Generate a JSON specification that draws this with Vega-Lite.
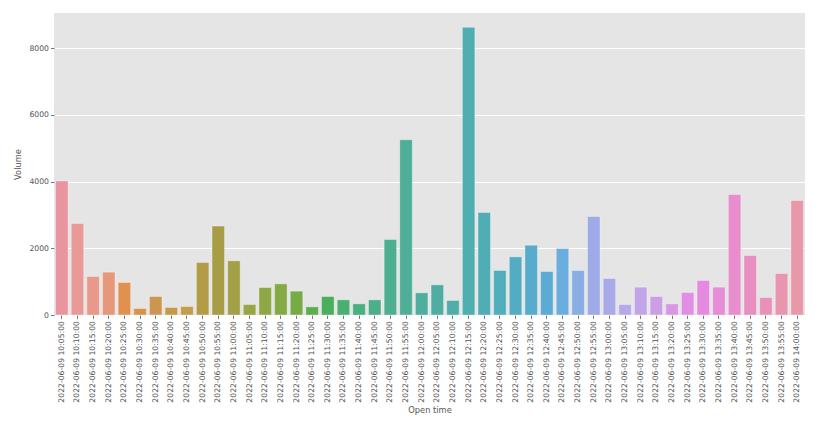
{
  "$schema": "https://vega.github.io/schema/vega-lite/v6.json",
  "width": 751,
  "height": 302,
  "autosize": {"type": "none"},
  "padding": {"left": 54, "top": 13, "right": 14, "bottom": 114},
  "background": "white",
  "config": {
    "font": "DejaVu Sans",
    "view": {"fill": "#e5e5e5", "stroke": null},
    "axis": {
      "labelColor": "#555555",
      "titleColor": "#555555",
      "tickColor": "#555555",
      "labelFont": "DejaVu Sans",
      "titleFont": "DejaVu Sans",
      "labelFontSize": 7.7,
      "titleFontSize": 8.3,
      "titleFontWeight": "normal",
      "domain": false,
      "tickSize": 3.5,
      "tickWidth": 0.8,
      "gridColor": "white",
      "gridWidth": 1
    }
  },
  "data": {
    "values": [
      {"Open time": "2022-06-09 10:05:00", "Volume": 4020},
      {"Open time": "2022-06-09 10:10:00", "Volume": 2745},
      {"Open time": "2022-06-09 10:15:00", "Volume": 1155},
      {"Open time": "2022-06-09 10:20:00", "Volume": 1285},
      {"Open time": "2022-06-09 10:25:00", "Volume": 975},
      {"Open time": "2022-06-09 10:30:00", "Volume": 195},
      {"Open time": "2022-06-09 10:35:00", "Volume": 555},
      {"Open time": "2022-06-09 10:40:00", "Volume": 225},
      {"Open time": "2022-06-09 10:45:00", "Volume": 255},
      {"Open time": "2022-06-09 10:50:00", "Volume": 1575},
      {"Open time": "2022-06-09 10:55:00", "Volume": 2665},
      {"Open time": "2022-06-09 11:00:00", "Volume": 1625},
      {"Open time": "2022-06-09 11:05:00", "Volume": 315},
      {"Open time": "2022-06-09 11:10:00", "Volume": 825},
      {"Open time": "2022-06-09 11:15:00", "Volume": 935},
      {"Open time": "2022-06-09 11:20:00", "Volume": 715},
      {"Open time": "2022-06-09 11:25:00", "Volume": 245},
      {"Open time": "2022-06-09 11:30:00", "Volume": 555},
      {"Open time": "2022-06-09 11:35:00", "Volume": 455},
      {"Open time": "2022-06-09 11:40:00", "Volume": 335},
      {"Open time": "2022-06-09 11:45:00", "Volume": 455},
      {"Open time": "2022-06-09 11:50:00", "Volume": 2265},
      {"Open time": "2022-06-09 11:55:00", "Volume": 5255},
      {"Open time": "2022-06-09 12:00:00", "Volume": 665},
      {"Open time": "2022-06-09 12:05:00", "Volume": 905},
      {"Open time": "2022-06-09 12:10:00", "Volume": 435},
      {"Open time": "2022-06-09 12:15:00", "Volume": 8625},
      {"Open time": "2022-06-09 12:20:00", "Volume": 3075},
      {"Open time": "2022-06-09 12:25:00", "Volume": 1335},
      {"Open time": "2022-06-09 12:30:00", "Volume": 1745},
      {"Open time": "2022-06-09 12:35:00", "Volume": 2095},
      {"Open time": "2022-06-09 12:40:00", "Volume": 1305},
      {"Open time": "2022-06-09 12:45:00", "Volume": 1995},
      {"Open time": "2022-06-09 12:50:00", "Volume": 1335},
      {"Open time": "2022-06-09 12:55:00", "Volume": 2955},
      {"Open time": "2022-06-09 13:00:00", "Volume": 1095},
      {"Open time": "2022-06-09 13:05:00", "Volume": 315},
      {"Open time": "2022-06-09 13:10:00", "Volume": 835},
      {"Open time": "2022-06-09 13:15:00", "Volume": 555},
      {"Open time": "2022-06-09 13:20:00", "Volume": 335},
      {"Open time": "2022-06-09 13:25:00", "Volume": 675},
      {"Open time": "2022-06-09 13:30:00", "Volume": 1035},
      {"Open time": "2022-06-09 13:35:00", "Volume": 835},
      {"Open time": "2022-06-09 13:40:00", "Volume": 3615},
      {"Open time": "2022-06-09 13:45:00", "Volume": 1785},
      {"Open time": "2022-06-09 13:50:00", "Volume": 525},
      {"Open time": "2022-06-09 13:55:00", "Volume": 1245},
      {"Open time": "2022-06-09 14:00:00", "Volume": 3435}
    ]
  },
  "mark": {"type": "bar", "stroke": "white", "strokeOpacity": 0.35, "strokeWidth": 1},
  "encoding": {
    "x": {
      "field": "Open time",
      "type": "nominal",
      "sort": null,
      "scale": {"paddingInner": 0.2, "paddingOuter": 0.1},
      "axis": {"labelAngle": -90, "labelPadding": 2, "title": "Open time", "titlePadding": 3, "grid": false, "labelOverlap": false}
    },
    "y": {
      "field": "Volume",
      "type": "quantitative",
      "scale": {"domain": [0, 9055], "nice": false, "zero": true},
      "axis": {"values": [0, 2000, 4000, 6000, 8000], "format": "d", "title": "Volume", "titlePadding": 6, "labelPadding": 2, "grid": true}
    },
    "color": {
      "field": "Open time",
      "type": "nominal",
      "sort": null,
      "legend": null,
      "scale": {
        "range": ["#e8959f", "#e99a96", "#e8998a", "#e6987a", "#e0904f", "#d89348", "#cc9650", "#c49a48", "#c29e4c", "#b39c48", "#a89d47", "#a3a047", "#9aa546", "#8fa846", "#84aa46", "#77ab45", "#5ead4f", "#4aae5a", "#4baf72", "#4caf80", "#4dae8a", "#4daf90", "#4eae98", "#4fae9e", "#50ada4", "#50adaa", "#4faeb0", "#50adb5", "#52adbc", "#54acc3", "#56acca", "#5aacd4", "#6aaee0", "#88aee4", "#9eabe6", "#aaaaea", "#b7a8ea", "#c2a5e8", "#cb9fe5", "#d897e3", "#e08fe4", "#e58ae0", "#e78dd8", "#e88ece", "#e88fc2", "#e892b9", "#e896b0", "#e898a8"]
      }
    }
  }
}
